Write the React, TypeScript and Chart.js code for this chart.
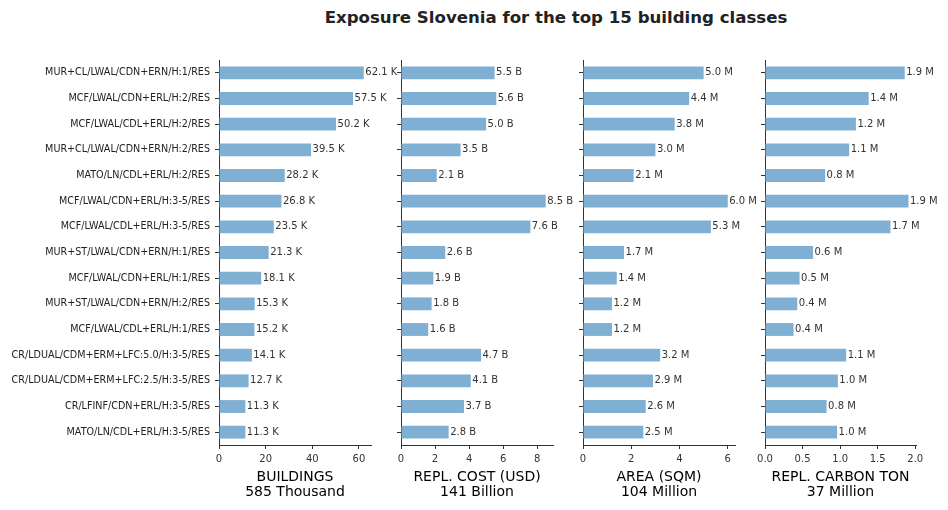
import React, { useEffect, useRef } from 'react';
import { Chart, registerables } from 'chart.js';
Chart.register(...registerables);

const FONT = "'DejaVu Sans', sans-serif";

const categories = [
  'MUR+CL/LWAL/CDN+ERN/H:1/RES',
  'MCF/LWAL/CDN+ERL/H:2/RES',
  'MCF/LWAL/CDL+ERL/H:2/RES',
  'MUR+CL/LWAL/CDN+ERN/H:2/RES',
  'MATO/LN/CDL+ERL/H:2/RES',
  'MCF/LWAL/CDN+ERL/H:3-5/RES',
  'MCF/LWAL/CDL+ERL/H:3-5/RES',
  'MUR+ST/LWAL/CDN+ERN/H:1/RES',
  'MCF/LWAL/CDN+ERL/H:1/RES',
  'MUR+ST/LWAL/CDN+ERN/H:2/RES',
  'MCF/LWAL/CDL+ERL/H:1/RES',
  'CR/LDUAL/CDM+ERM+LFC:5.0/H:3-5/RES',
  'CR/LDUAL/CDM+ERM+LFC:2.5/H:3-5/RES',
  'CR/LFINF/CDN+ERL/H:3-5/RES',
  'MATO/LN/CDL+ERL/H:3-5/RES',
];

const buildings = [62.1, 57.5, 50.2, 39.5, 28.2, 26.8, 23.5, 21.3, 18.1, 15.3, 15.2, 14.1, 12.7, 11.3, 11.3];
const replCost = [5.5, 5.6, 5.0, 3.5, 2.1, 8.5, 7.6, 2.6, 1.9, 1.8, 1.6, 4.7, 4.1, 3.7, 2.8];
const area = [5.0, 4.4, 3.8, 3.0, 2.1, 6.0, 5.3, 1.7, 1.4, 1.2, 1.2, 3.2, 2.9, 2.6, 2.5];
const carbon = [1.86, 1.38, 1.21, 1.12, 0.8, 1.91, 1.67, 0.64, 0.46, 0.43, 0.38, 1.08, 0.97, 0.82, 0.96];

const panelTitles = [
  ['BUILDINGS', '585 Thousand'],
  ['REPL. COST (USD)', '141 Billion'],
  ['AREA (SQM)', '104 Million'],
  ['REPL. CARBON TON', '37 Million'],
];
const suffixes = ['K', 'B', 'M', 'M'];
const axisMax = [65.2, 8.93, 6.3, 2.01];
const axisStep = [20, 2, 2, 0.5];
const tickDecimals = [0, 0, 0, 1];
const chartTitle = 'Exposure Slovenia for the top 15 building classes';

const W = 948;
const H = 510;
const areaLeft = [219, 401, 583, 765];
const areaRight = [371, 553, 735, 916];
const areaTop = 60;
const areaBottom = 445;

function makeLabelPlugin(suffix: string) {
  return {
    id: 'valLabels',
    afterDatasetsDraw(chart: any) {
      const ctx = chart.ctx;
      const meta = chart.getDatasetMeta(0);
      const data = chart.data.datasets[0].data as number[];
      ctx.save();
      ctx.font = `10px ${FONT}`;
      ctx.fillStyle = '#333333';
      ctx.textAlign = 'left';
      ctx.textBaseline = 'middle';
      meta.data.forEach((el: any, i: number) => {
        ctx.fillText(`${data[i].toFixed(1)} ${suffix}`, el.x + 1.5, el.y);
      });
      ctx.restore();
    },
  };
}

export default function App() {
  const refs = [useRef<HTMLCanvasElement>(null), useRef<HTMLCanvasElement>(null), useRef<HTMLCanvasElement>(null), useRef<HTMLCanvasElement>(null)];

  useEffect(() => {
    const series = [buildings, replCost, area, carbon];
    const charts: Chart[] = [];
    series.forEach((vals, p) => {
      const canvas = refs[p].current;
      if (!canvas) return;
      const yWidth = p === 0 ? areaLeft[0] : 10;
      const chart = new Chart(canvas, {
        type: 'bar',
        data: {
          labels: categories,
          datasets: [
            {
              data: vals,
              backgroundColor: '#7fafd3',
              borderWidth: 0,
              barPercentage: 0.5,
              categoryPercentage: 1,
            },
          ],
        },
        options: {
          indexAxis: 'y',
          responsive: false,
          animation: false,
          devicePixelRatio: 1,
          events: [],
          layout: {
            padding: {
              left: areaLeft[p] - yWidth,
              right: W - areaRight[p],
              top: areaTop,
              bottom: 0,
            },
          },
          plugins: {
            legend: { display: false },
            tooltip: { enabled: false },
            title: { display: false },
          },
          scales: {
            x: {
              type: 'linear',
              min: 0,
              max: axisMax[p],
              afterFit: (s: any) => {
                s.height = H - areaBottom;
              },
              grid: {
                drawOnChartArea: false,
                drawTicks: true,
                tickLength: 4,
                color: '#333333',
              },
              border: { display: true, color: '#333333', width: 1 },
              ticks: {
                stepSize: axisStep[p],
                includeBounds: false,
                padding: 4,
                color: '#333333',
                font: { family: FONT, size: 10 },
                callback: (v: any) => Number(v).toFixed(tickDecimals[p]),
                maxRotation: 0,
              },
              title: {
                display: true,
                text: panelTitles[p],
                color: '#000000',
                font: { family: FONT, size: 14, lineHeight: 1.1 },
                padding: { top: 0, bottom: 10 },
              },
            },
            y: {
              type: 'category',
              offset: true,
              afterFit: (s: any) => {
                s.width = yWidth;
              },
              grid: {
                drawOnChartArea: false,
                drawTicks: true,
                tickLength: 4,
                color: '#333333',
                offset: false,
              },
              border: { display: true, color: '#333333', width: 1 },
              ticks: {
                display: p === 0,
                padding: 5,
                color: '#222222',
                font: { family: FONT, size: 9.6 },
                autoSkip: false,
              },
            },
          },
        },
        plugins: [makeLabelPlugin(suffixes[p])],
      });
      charts.push(chart);
    });
    return () => {
      charts.forEach((c) => c.destroy());
    };
  }, []);

  return (
    <div style={{ position: 'absolute', left: 0, top: 0, width: W, height: H, background: '#ffffff', overflow: 'hidden' }}>
      <div
        style={{
          position: 'absolute',
          left: 256,
          top: 7,
          width: 600,
          textAlign: 'center',
          fontFamily: FONT,
          fontWeight: 'bold',
          fontSize: 16.6,
          lineHeight: '22px',
          color: '#222222',
        }}
      >
        {chartTitle}
      </div>
      {refs.map((r, i) => (
        <canvas
          key={i}
          ref={r}
          width={W}
          height={H}
          style={{ position: 'absolute', left: 0, top: 0, width: W, height: H }}
        />
      ))}
    </div>
  );
}
